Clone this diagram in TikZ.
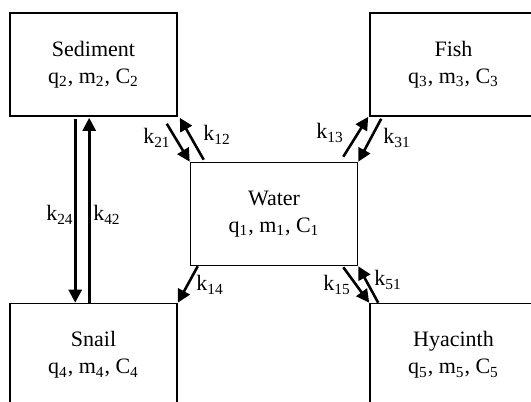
\documentclass[tikz,border=0pt]{standalone}
\usepackage{fontspec}
\setmainfont{Liberation Serif}
\usetikzlibrary{arrows.meta,calc}
\newcommand{\ksub}[1]{k\textsubscript{#1}}
\newcommand{\qmc}[1]{q\textsubscript{#1}, m\textsubscript{#1}, C\textsubscript{#1}}
\begin{document}
\begin{tikzpicture}[x=0.5pt,y=-0.5pt,
  box/.style={draw,line width=0.8pt,minimum width=83.5pt,minimum height=51.5pt,inner sep=0pt,align=center,font=\fontsize{11}{13.5}\selectfont},
  flow/.style={line width=1.3pt,-{Triangle[length=6.5pt,width=6.5pt]}},
  lab/.style={inner sep=0pt,font=\fontsize{11}{13}\selectfont}]
\useasboundingbox (0,0) rectangle (531,402);
\clip (0,0) rectangle (531,402);
\node[box] (sed) at (93.5,64.5) {Sediment\\\qmc{2}};
\node[box] (fish) at (453.5,64.5) {Fish\\\qmc{3}};
\node[box] (wat) at (274,214) {Water\\\qmc{1}};
\node[box] (snail) at (93.5,355) {Snail\\\qmc{4}};
\node[box] (hya) at (453.5,355) {Hyacinth\\\qmc{5}};
% connectors
\draw[flow] ($(sed.south east)+(-11,7)$) -- (wat.north west);
\draw[flow] ($(wat.north west)+(14,-2)$) -- ($(sed.south east)+(2,1)$);
\draw[flow] ($(wat.north east)+(-15,-5)$) -- ($(fish.south west)+(-1,0)$);
\draw[flow] ($(fish.south west)+(12,2)$) -- (wat.north east);
\draw[flow] ($(wat.south west)+(8,0)$) -- (snail.north east);
\draw[flow] ($(wat.south east)+(-15,1)$) -- (hya.north west);
\draw[flow] ($(hya.north west)+(9,0)$) -- (wat.south east);
\draw[flow] ($(sed.south west)+(66,2)$) -- ($(snail.north west)+(66,0)$);
\draw[flow] ($(snail.north west)+(80,0)$) -- ($(sed.south west)+(80,1)$);
% labels
\node[lab] (l21) at (157,138) {\ksub{21}};
\node[lab] (l12) at (217,135) {\ksub{12}};
\node[lab] (l13) at (330,133) {\ksub{13}};
\node[lab] (l31) at (397,138) {\ksub{31}};
\node[lab] (l14) at (210,285) {\ksub{14}};
\node[lab] (l15) at (337,285) {\ksub{15}};
\node[lab] (l51) at (388,280) {\ksub{51}};
\node[lab] (l24) at (60,215) {\ksub{24}};
\node[lab] (l42) at (107,215) {\ksub{42}};
\end{tikzpicture}
\end{document}
